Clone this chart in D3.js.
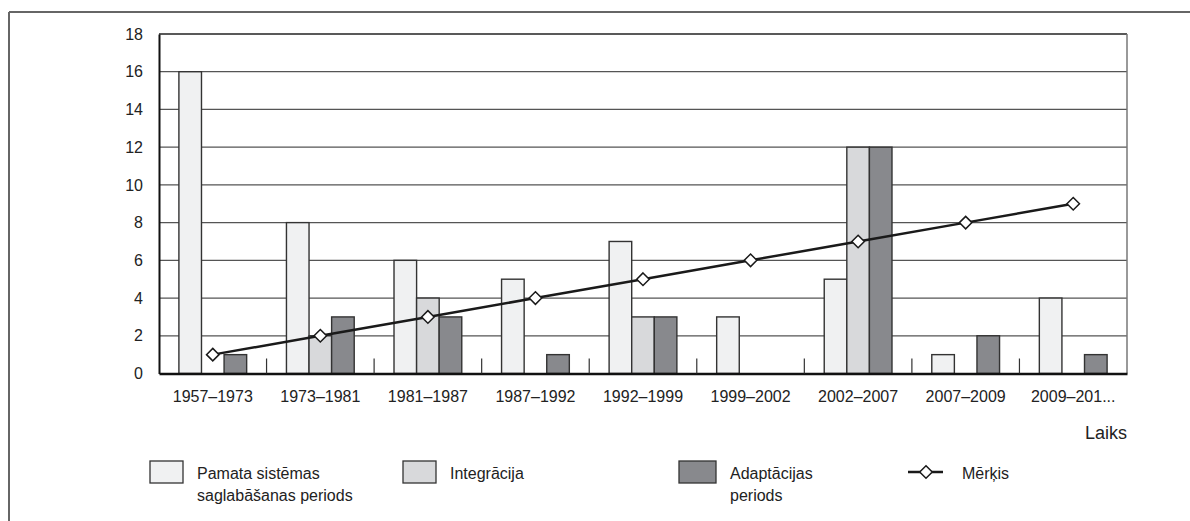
<!DOCTYPE html>
<html>
<head>
<meta charset="utf-8">
<script src="https://cdn.jsdelivr.net/npm/d3@7"></script>
<style>
  html, body { margin: 0; padding: 0; background: #fff; }
  svg { display: block; font-family: "Liberation Sans", Arial, sans-serif; }
</style>
</head>
<body>
<svg id="chart" width="1190" height="521"></svg>
<script>
// Periods on the horizontal axis
const categories = ["1957–1973", "1973–1981", "1981–1987", "1987–1992", "1992–1999",
                    "1999–2002", "2002–2007", "2007–2009", "2009–201..."];
// Bar series
const pamata      = [16, 8, 6, 5, 7, 3, 5, 1, 4];
const integracija = [0, 2, 4, 0, 3, 0, 12, 0, 0];
const adaptacija  = [1, 3, 3, 1, 3, 0, 12, 2, 1];
// Line series
const merkis      = [1, 2, 3, 4, 5, 6, 7, 8, 9];
const yTicks      = [0, 2, 4, 6, 8, 10, 12, 14, 16, 18];

const seriesNames = ["Pamata sistēmas\nsaglabāšanas periods", "Integrācija", "Adaptācijas\nperiods"];
const seriesData  = [pamata, integracija, adaptacija];
const fills       = ["#f0f1f2", "#d8d9db", "#88898d"];

const svg = d3.select("#chart");
const plotLeft = 159, plotRight = 1127, plotTop = 34, plotBottom = 373.5;

// Outer frame (top and left edges)
svg.append("line").attr("x1", 9).attr("x2", 1190).attr("y1", 12).attr("y2", 12)
  .attr("stroke", "#666").attr("stroke-width", 2);
svg.append("line").attr("x1", 9).attr("x2", 9).attr("y1", 12).attr("y2", 521)
  .attr("stroke", "#666").attr("stroke-width", 2);

const y = d3.scaleLinear().domain([0, 18]).range([plotBottom, plotTop]);
const x0 = d3.scaleBand().domain(categories).range([plotLeft, plotRight]).padding(0);
const bw = x0.bandwidth();
const x1 = d3.scaleBand().domain(d3.range(3)).range([bw * 0.185, bw * 0.815]).padding(0);

// Grid lines
svg.append("g").selectAll("line").data(yTicks.filter(d => d > 0)).join("line")
  .attr("x1", plotLeft).attr("x2", plotRight)
  .attr("y1", d => y(d)).attr("y2", d => y(d))
  .attr("stroke", d => d === 18 ? "#222" : "#555").attr("stroke-width", d => d === 18 ? 1.5 : 1.2);
// Right plot edge
svg.append("line").attr("x1", plotRight).attr("x2", plotRight).attr("y1", plotTop).attr("y2", plotBottom)
  .attr("stroke", "#777").attr("stroke-width", 1.5);

// Y axis
const yAxis = svg.append("g").attr("transform", `translate(${plotLeft},0)`)
  .call(d3.axisLeft(y).tickValues(yTicks).tickSize(0).tickPadding(16));
yAxis.select(".domain").attr("stroke", "#111").attr("stroke-width", 2);
yAxis.selectAll("text").attr("font-size", 16).attr("fill", "#222")
  .attr("font-family", "Liberation Sans, Arial, sans-serif");

// Bars
const groups = svg.append("g").selectAll("g").data(categories).join("g")
  .attr("transform", d => `translate(${x0(d)},0)`);
groups.selectAll("rect").data((d, i) => seriesData.map((s, k) => ({k, v: s[i]}))).join("rect")
  .attr("x", d => x1(d.k)).attr("width", x1.bandwidth())
  .attr("y", d => y(d.v)).attr("height", d => plotBottom - y(d.v))
  .attr("fill", d => fills[d.k]).attr("stroke", "#333").attr("stroke-width", 1.4);

// X axis with inward ticks between periods
const xAxis = svg.append("g").attr("transform", `translate(0,${plotBottom})`)
  .call(d3.axisBottom(x0).tickSize(0).tickPadding(17));
xAxis.select(".domain").attr("stroke", "#111").attr("stroke-width", 2.5);
xAxis.selectAll("text").attr("font-size", 16).attr("fill", "#222")
  .attr("font-family", "Liberation Sans, Arial, sans-serif");
svg.append("g").selectAll("line").data(categories.slice(1)).join("line")
  .attr("x1", d => x0(d)).attr("x2", d => x0(d))
  .attr("y1", plotBottom).attr("y2", plotBottom - 15)
  .attr("stroke", "#333").attr("stroke-width", 1.2);

// Line series with diamond markers
const cx = d => x0(d) + bw / 2;
const line = d3.line().x((d, i) => cx(categories[i])).y(d => y(d));
svg.append("path").datum(merkis).attr("d", line)
  .attr("fill", "none").attr("stroke", "#1a1a1a").attr("stroke-width", 2.5);
const diamond = d3.symbol().type(d3.symbolDiamond2).size(100);
svg.append("g").selectAll("path").data(merkis).join("path")
  .attr("transform", (d, i) => `translate(${cx(categories[i])},${y(d)})`)
  .attr("d", diamond).attr("fill", "#fff").attr("stroke", "#1a1a1a").attr("stroke-width", 1.5);

// Axis title
svg.append("text").attr("x", 1127).attr("y", 439).attr("text-anchor", "end")
  .attr("font-size", 18).attr("fill", "#222").text("Laiks");

// Legend
const legendX = [150, 403, 679];
const legendW = [33, 33, 37];
seriesNames.forEach((name, k) => {
  const g = svg.append("g").attr("transform", `translate(${legendX[k]},461)`);
  g.append("rect").attr("width", legendW[k]).attr("height", 22)
    .attr("fill", fills[k]).attr("stroke", "#333").attr("stroke-width", 1.3);
  name.split("\n").forEach((ln, j) => {
    g.append("text").attr("x", legendW[k] + 14).attr("y", 18 + j * 22)
      .attr("font-size", 16).attr("fill", "#222").text(ln);
  });
});
const lg = svg.append("g").attr("transform", "translate(908,472)");
lg.append("line").attr("x1", 0).attr("x2", 35).attr("stroke", "#1a1a1a").attr("stroke-width", 2.5);
lg.append("path").attr("transform", "translate(18,0)").attr("d", diamond)
  .attr("fill", "#fff").attr("stroke", "#1a1a1a").attr("stroke-width", 1.5);
lg.append("text").attr("x", 54).attr("y", 7).attr("font-size", 16).attr("fill", "#222").text("Mērķis");
</script>
</body>
</html>
